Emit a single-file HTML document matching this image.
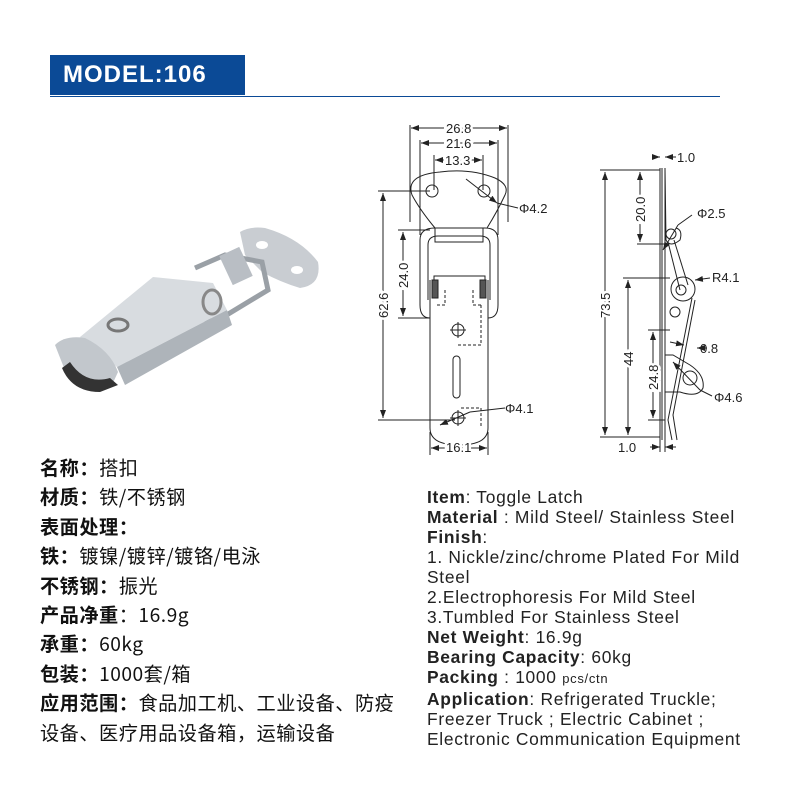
<!DOCTYPE html>
<html><head><meta charset="utf-8"><style>
body{margin:0;width:800px;height:800px;background:#fff;position:relative;overflow:hidden;font-family:"Liberation Sans","Noto Sans CJK SC",sans-serif;}
.hdr{position:absolute;left:50px;top:55px;width:195px;height:40px;background:#0b4a96;color:#fff;font-weight:bold;font-size:24px;line-height:40px;padding-left:13px;box-sizing:border-box;letter-spacing:1px}
.line{position:absolute;left:50px;top:96px;width:670px;height:1px;background:#0b4a96}
.cn{position:absolute;left:40px;top:453px;font-family:"Noto Sans CJK SC",sans-serif;font-size:19.2px;line-height:29.4px;color:#111;white-space:nowrap;letter-spacing:0.5px}
.cn b{font-weight:bold}
.en{position:absolute;left:427px;top:487px;font-size:17.4px;line-height:20px;color:#222;letter-spacing:0.7px;white-space:nowrap}
.en b{font-weight:bold}
svg{position:absolute;left:0;top:0}
</style></head><body>
<div class="hdr">MODEL:106</div><div class="line"></div>
<svg width="800" height="800" viewBox="0 0 800 800" font-family="Liberation Sans,sans-serif" font-size="13" fill="none" stroke="#222" stroke-width="1">
<defs><marker id="a" markerWidth="8" markerHeight="6" refX="8" refY="3" orient="auto-start-reverse"><path d="M0,0L8,3L0,6z" fill="#222" stroke="none"/></marker></defs>
<g stroke="none">
<path d="M240,232 Q250,226 265,228 Q300,238 318,262 Q322,285 300,288 Q280,282 262,272 L245,255 Z" fill="#c9cdd2"/>
<ellipse cx="262" cy="245" rx="6" ry="4" fill="#fff"/><ellipse cx="297" cy="270" rx="6" ry="4" fill="#fff"/>
<path d="M195,268 L225,255 L262,262 L268,290 L215,322 L200,318" fill="none" stroke="#9aa0a6" stroke-width="5"/>
<rect x="225" y="250" width="22" height="32" fill="#b9bec4" transform="rotate(-25 236 266)"/>
<path d="M80,337 L153,277 L213,283 L227,310 L117,367 Z" fill="#d8dce0"/>
<path d="M117,367 L227,310 L232,325 L125,385 Z" fill="#aeb4ba"/>
<path d="M55,345 Q65,335 85,338 Q110,350 118,372 L112,385 Q85,392 68,378 Z" fill="#c2c7cc"/>
<path d="M62,368 Q72,392 100,392 L118,385 L110,378 Q85,385 70,362 Z" fill="#333"/>
<ellipse cx="118" cy="325" rx="10" ry="6" fill="none" stroke="#777" stroke-width="3"/>
<ellipse cx="212" cy="302" rx="9" ry="12" fill="none" stroke="#888" stroke-width="3"/>
</g>
<g>
<line x1="410" y1="125" x2="410" y2="222"/><line x1="508" y1="125" x2="508" y2="222"/>
<line x1="411" y1="128" x2="507" y2="128" marker-start="url(#a)" marker-end="url(#a)"/>
<line x1="420" y1="140" x2="420" y2="235"/><line x1="498" y1="140" x2="498" y2="235"/>
<line x1="421" y1="143" x2="497" y2="143" marker-start="url(#a)" marker-end="url(#a)"/>
<line x1="434" y1="155" x2="434" y2="190"/><line x1="483" y1="155" x2="483" y2="190"/>
<line x1="435" y1="160" x2="482" y2="160" marker-start="url(#a)" marker-end="url(#a)"/>
<path d="M435,228 Q420,210 412,195 Q405,175 440,172 Q470,168 495,178 Q510,185 505,195 Q497,212 487,228"/>
<circle cx="432" cy="191" r="6"/><circle cx="484" cy="191" r="6"/>
<path d="M430,318 Q420,318 420,305 L420,240 Q420,228 435,228 L485,228 Q498,228 498,240 L498,305 Q498,318 488,318"/>
<path d="M428,300 L428,245 Q428,236 438,236 L480,236 Q490,236 490,245 L490,300"/>
<rect x="435" y="228" width="48" height="14"/>
<path d="M430,280 L430,428 Q430,445 459,445 Q488,445 488,428 L488,280"/>
<path d="M434,287 L434,276 L485,276 L485,287"/>
<rect x="432" y="280" width="6" height="18" fill="#555"/><rect x="480" y="280" width="6" height="18" fill="#555"/>
<path d="M445,290 L445,305 L437,305 M473,290 L473,305 L481,305 M481,305 L481,345 L458,345 M461,408 L481,408 L481,428" stroke-dasharray="3,2"/>
<circle cx="458" cy="330" r="6"/><line x1="450" y1="330" x2="466" y2="330"/><line x1="458" y1="322" x2="458" y2="338"/>
<rect x="453" y="356" width="7" height="42" rx="3.5"/>
<circle cx="458" cy="418" r="6"/><line x1="450" y1="418" x2="466" y2="418"/><line x1="458" y1="410" x2="458" y2="426"/>
<line x1="378" y1="191" x2="430" y2="191"/><line x1="378" y1="420" x2="455" y2="420"/>
<line x1="383" y1="193" x2="383" y2="418" marker-start="url(#a)" marker-end="url(#a)"/>
<line x1="398" y1="230" x2="430" y2="230"/><line x1="398" y1="318" x2="430" y2="318"/>
<line x1="403" y1="232" x2="403" y2="316" marker-start="url(#a)" marker-end="url(#a)"/>
<line x1="430" y1="432" x2="430" y2="455"/><line x1="488" y1="432" x2="488" y2="455"/>
<line x1="431" y1="448" x2="487" y2="448" marker-start="url(#a)" marker-end="url(#a)"/>
<line x1="466" y1="179" x2="497" y2="203" marker-end="url(#a)"/><line x1="497" y1="203" x2="518" y2="208"/>
<line x1="440" y1="425" x2="470" y2="412" marker-start="url(#a)"/><line x1="470" y1="412" x2="505" y2="408"/>
</g>
<g fill="#222" stroke="none" font-size="13">
<text x="446" y="133" stroke="#fff" stroke-width="5" paint-order="stroke">26.8</text>
<text x="446" y="148" stroke="#fff" stroke-width="5" paint-order="stroke">21.6</text>
<text x="445" y="165" stroke="#fff" stroke-width="5" paint-order="stroke">13.3</text>
<text x="519" y="213">Φ4.2</text><text x="505" y="413">Φ4.1</text>
<text x="446" y="452" stroke="#fff" stroke-width="5" paint-order="stroke">16.1</text>
<text transform="translate(388,318) rotate(-90)" stroke="#fff" stroke-width="5" paint-order="stroke">62.6</text>
<text transform="translate(408,288) rotate(-90)" stroke="#fff" stroke-width="5" paint-order="stroke">24.0</text>
</g>
<g>
<path d="M660,168 L660,440 M665,168 L665,440 M662,168 L662,440"/>
<path d="M665,168 L666,240 Q670,248 680,240 Q683,230 676,228"/>
<circle cx="671" cy="234" r="5"/>
<line x1="668" y1="242" x2="680" y2="290"/>
<line x1="674" y1="240" x2="688" y2="285"/>
<circle cx="683" cy="289" r="12"/><circle cx="681" cy="290" r="5"/>
<circle cx="675" cy="312" r="5"/>
<path d="M692,298 L668,420 L672,440 M695,300 L673,415 L677,440"/>
<path d="M665,355 L673,355 L690,365 Q705,375 703,388 Q698,398 680,392 L665,392"/>
<circle cx="690" cy="378" r="7"/>
<line x1="655" y1="157" x2="660" y2="157" marker-end="url(#a)"/><line x1="665" y1="157" x2="676" y2="157" marker-start="url(#a)"/>
<line x1="600" y1="170" x2="660" y2="170"/><line x1="600" y1="437" x2="660" y2="437"/>
<line x1="605" y1="172" x2="605" y2="435" marker-start="url(#a)" marker-end="url(#a)"/>
<line x1="637" y1="244" x2="668" y2="244"/>
<line x1="640" y1="172" x2="640" y2="242" marker-start="url(#a)" marker-end="url(#a)"/>
<line x1="623" y1="278" x2="670" y2="278"/>
<line x1="628" y1="280" x2="628" y2="435" marker-start="url(#a)" marker-end="url(#a)"/>
<line x1="648" y1="330" x2="670" y2="330"/><line x1="648" y1="420" x2="665" y2="420"/>
<line x1="653" y1="332" x2="653" y2="418" marker-start="url(#a)" marker-end="url(#a)"/>
<line x1="663" y1="250" x2="678" y2="225" marker-start="url(#a)"/><line x1="678" y1="225" x2="692" y2="215"/>
<line x1="695" y1="280" x2="710" y2="278" marker-start="url(#a)"/>
<line x1="670" y1="342" x2="684" y2="345" marker-end="url(#a)"/><line x1="697" y1="348" x2="707" y2="348" marker-start="url(#a)"/>
<line x1="673" y1="362" x2="700" y2="390" marker-start="url(#a)"/><line x1="700" y1="390" x2="712" y2="396"/>
<line x1="650" y1="447" x2="660" y2="447" marker-end="url(#a)"/><line x1="665" y1="447" x2="676" y2="447" marker-start="url(#a)"/>
<line x1="660" y1="440" x2="660" y2="452"/><line x1="665" y1="440" x2="665" y2="452"/>
</g>
<g fill="#222" stroke="none" font-size="13">
<text x="677" y="162">1.0</text>
<text x="697" y="218">Φ2.5</text>
<text x="712" y="282">R4.1</text>
<text x="700" y="353">0.8</text>
<text x="714" y="402">Φ4.6</text>
<text x="618" y="452">1.0</text>
<text transform="translate(610,318) rotate(-90)" stroke="#fff" stroke-width="5" paint-order="stroke">73.5</text>
<text transform="translate(645,222) rotate(-90)" stroke="#fff" stroke-width="5" paint-order="stroke">20.0</text>
<text transform="translate(633,366) rotate(-90)" stroke="#fff" stroke-width="5" paint-order="stroke">44</text>
<text transform="translate(658,390) rotate(-90)" stroke="#fff" stroke-width="5" paint-order="stroke">24.8</text>
</g>
</svg>
<div class="cn">
<b>名称：</b>搭扣<br><b>材质：</b>铁/不锈钢<br><b>表面处理：</b><br><b>铁：</b>镀镍/镀锌/镀铬/电泳<br><b>不锈钢：</b>振光<br><b>产品净重</b>：16.9g<br><b>承重：</b>60kg<br><b>包装：</b>1000套/箱<br><b>应用范围：</b>食品加工机、工业设备、防疫<br>设备、医疗用品设备箱，运输设备
</div>
<div class="en">
<b>Item</b>: Toggle Latch<br><b>Material</b> : Mild Steel/ Stainless Steel<br><b>Finish</b>:<br>1. Nickle/zinc/chrome Plated For Mild<br>Steel<br>2.Electrophoresis For Mild Steel<br>3.Tumbled For Stainless Steel<br><b>Net Weight</b>: 16.9g<br><b>Bearing Capacity</b>: 60kg<br><b>Packing</b> : 1000 <span style="font-size:13px">pcs/ctn</span><br><b>Application</b>: Refrigerated Truckle;<br>Freezer Truck ; Electric Cabinet ;<br>Electronic Communication Equipment
</div>
</body></html>
